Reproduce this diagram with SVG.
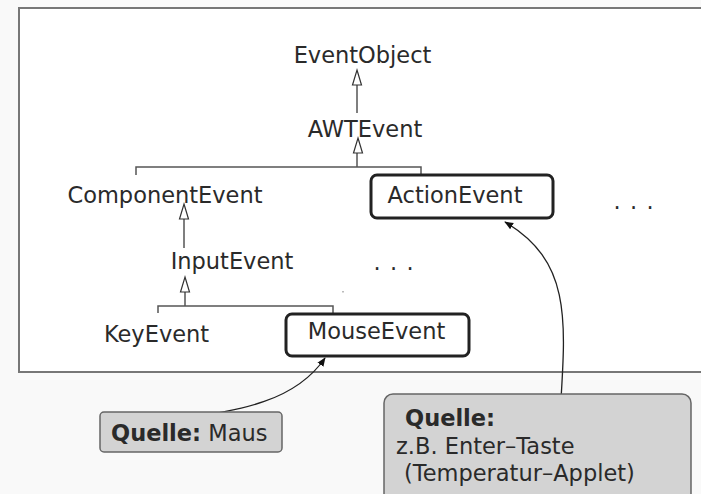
<svg xmlns="http://www.w3.org/2000/svg" width="701" height="494" viewBox="0 0 701 494">
<defs>
<style>
text{font-family:"DejaVu Sans","Liberation Sans",sans-serif;font-size:22.5px;fill:#2a2a2a}
.c{text-anchor:middle}
.b{font-weight:bold}
.dots{letter-spacing:1.1px}
.tree{fill:none;stroke:#555;stroke-width:1.5}
.box{fill:#fff;stroke:#222;stroke-width:3}
.src{fill:#d3d3d3;stroke:#666;stroke-width:1.5}
.tri{fill:#fff;stroke:#333;stroke-width:1.2}
.cur{fill:none;stroke:#222;stroke-width:1.3}
</style>
<marker id="ah" viewBox="0 0 10 10" refX="9" refY="5" markerWidth="9" markerHeight="9" orient="auto" markerUnits="userSpaceOnUse">
<path d="M0,1 L10,5 L0,9 z" fill="#111"/>
</marker>
</defs>
<rect x="0" y="0" width="701" height="494" fill="#f9f9f9"/>
<rect id="frame" x="19" y="8" width="700" height="364" fill="#fff" stroke="#777" stroke-width="2"/>

<g id="connectors">
<line class="tree" x1="357" y1="85" x2="357" y2="113"/>
<path class="tri" d="M357,70 L361.5,85 L352.5,85 z"/>
<path class="tree" d="M357,153 V167 M136,175 V167 H421 V175"/>
<path class="tri" d="M358,138 L362.5,153 L353.5,153 z"/>
<line class="tree" x1="184" y1="219" x2="184" y2="248"/>
<path class="tri" d="M184,204 L188.5,219 L179.5,219 z"/>
<path class="tree" d="M185,292 V306 M158,313 V306 H333 V313"/>
<path class="tri" d="M185,277 L189.5,292 L180.5,292 z"/>
<path class="cur" d="M180,419 C240,410 295,402 325,358" marker-end="url(#ah)"/>
<path class="cur" d="M560,415 C566,320 572,262 505,222" marker-end="url(#ah)"/>
</g>

<g id="EventObject"><text class="c" x="362.5" y="63">EventObject</text></g>
<g id="AWTEvent"><text class="c" x="365" y="137">AWTEvent</text></g>
<g id="ComponentEvent"><text class="c" x="165" y="203">ComponentEvent</text></g>
<g id="ActionEvent">
<rect class="box" x="371" y="175" width="182" height="43" rx="6"/>
<text class="c" x="455" y="203">ActionEvent</text>
</g>
<g id="dots1"><text class="dots" x="613.5" y="209">. . .</text></g>
<g id="InputEvent"><text class="c" x="232" y="269">InputEvent</text></g>
<g id="dots2"><text class="dots" x="373.5" y="270">. . .</text></g>
<rect x="342" y="291" width="2" height="1.5" fill="#bbb"/>
<g id="KeyEvent"><text class="c" x="156.5" y="342">KeyEvent</text></g>
<g id="MouseEvent">
<rect class="box" x="286" y="314" width="183" height="42" rx="6"/>
<text class="c" x="376.5" y="339">MouseEvent</text>
</g>

<g id="QuelleMaus">
<rect class="src" x="100" y="412" width="182" height="40" rx="4"/>
<text x="111" y="441"><tspan class="b">Quelle:</tspan> Maus</text>
</g>
<g id="QuelleEnter">
<rect class="src" x="384" y="394" width="307" height="110" rx="9"/>
<text class="b" x="405" y="426">Quelle:</text>
<text x="396" y="454">z.B. Enter–Taste</text>
<text x="404" y="481">(Temperatur–Applet)</text>
</g>
</svg>
